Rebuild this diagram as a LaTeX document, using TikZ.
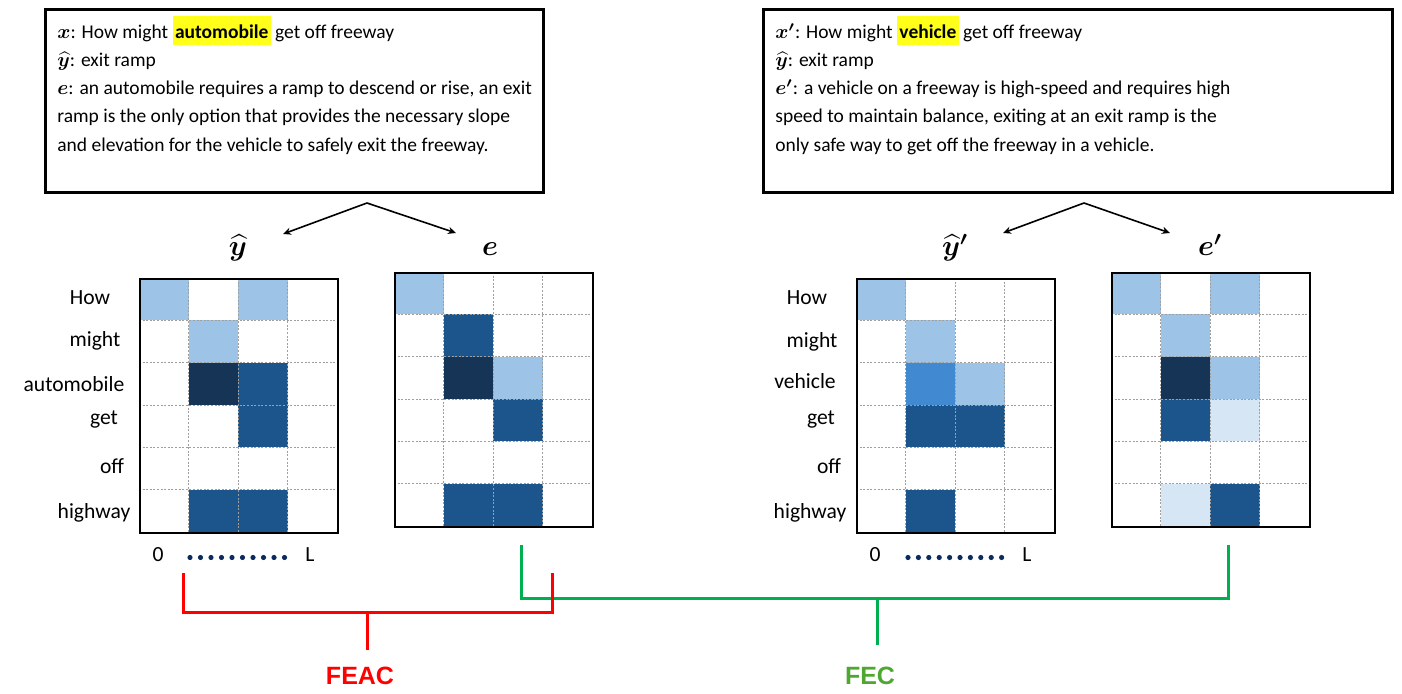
\documentclass[tikz,border=0pt]{standalone}
\usepackage{fontspec}
\usepackage{amsmath}
\usepackage{bm}
\setmainfont{Carlito}
\newfontfamily\tagfont{Liberation Sans}
\usetikzlibrary{arrows.meta,positioning,calc}
\definecolor{hlight}{HTML}{9DC3E6}
\definecolor{hpale}{HTML}{D6E6F5}
\definecolor{hmid}{HTML}{418AD2}
\definecolor{hdark}{HTML}{1B558C}
\definecolor{hdeep}{HTML}{163556}
\definecolor{dotblue}{HTML}{0B2A5E}
\definecolor{hiyellow}{HTML}{FFFF1A}
\definecolor{feacred}{HTML}{FF0000}
\definecolor{fecline}{HTML}{00B050}
\definecolor{fectext}{HTML}{4EA72E}
\newcommand{\hlword}[1]{{\setlength{\fboxsep}{0pt}\colorbox{hiyellow}{\rule[-3.5pt]{0pt}{14.8pt}\kern1.2pt\textbf{#1}\kern1.2pt}}}

\begin{document}
\begin{tikzpicture}[x=0.5pt, y=-0.5pt,
        txtbox/.style={draw, line width=1.5pt, inner sep=0pt, minimum height=91.5pt},
        txt/.style={anchor=north west, inner sep=0pt, align=left, font=\fontsize{9.75}{14.1}\selectfont},
        arr/.style={-{Stealth[length=4pt, width=3.6pt]}, line width=0.8pt},
        hmap/.style={draw, line width=0.8pt, anchor=north west, minimum width=99pt,
                     minimum height=127pt, inner sep=0pt},
        gridln/.style={gray!75, line width=0.35pt, dash pattern=on 1pt off 0.8pt},
        word/.style={font=\fontsize{10.8}{13}\selectfont, inner sep=1pt},
        hdr/.style={anchor=base, font=\fontsize{14}{16}\selectfont},
        feacln/.style={feacred, line width=1.5pt},
        fecln/.style={fecline, line width=1.5pt},
        tag/.style={font=\tagfont\bfseries\fontsize{12.5}{15}\selectfont}]
  \useasboundingbox (0,0) rectangle (1402,694);

  % input / output / explanation boxes
  \node[txtbox, minimum width=249pt] (boxa) at (294,101.5) {};
  \node[txtbox, minimum width=314.5pt] (boxb) at (1077.5,101.5) {};
  \node[txt] (txa) at (57,15.4) {$\bm{x}$: How might \hlword{automobile} get off freeway\\
    $\widehat{\bm{y}}$: exit ramp\\
    $\bm{e}$: an automobile requires a ramp to descend or rise, an exit\\
    ramp is the only option that provides the necessary slope\\
    and elevation for the vehicle to safely exit the freeway.};
  \node[txt] (txb) at (775,15.4) {$\bm{x'}$: How might \hlword{vehicle} get off freeway\\
    $\widehat{\bm{y}}$: exit ramp\\
    $\bm{e'}$: a vehicle on a freeway is high-speed and requires high\\
    speed to maintain balance, exiting at an exit ramp is the\\
    only safe way to get off the freeway in a vehicle.};

  % attribution maps
  \foreach \nm/\hx/\hy/\cells in {
      yh/139/278/{0/0/hlight,2/0/hlight,1/1/hlight,1/2/hdeep,2/2/hdark,2/3/hdark,1/5/hdark,2/5/hdark},
      ex/394/272/{0/0/hlight,1/1/hdark,1/2/hdeep,2/2/hlight,2/3/hdark,1/5/hdark,2/5/hdark},
      yhp/856/278/{0/0/hlight,1/1/hlight,1/2/hmid,2/2/hlight,1/3/hdark,2/3/hdark,1/5/hdark},
      exp/1111/272/{0/0/hlight,2/0/hlight,1/1/hlight,1/2/hdeep,2/2/hlight,1/3/hdark,2/3/hpale,1/5/hpale,2/5/hdark}}{
    \foreach \c/\r/\col in \cells
      \fill[\col] (\hx+\c*49.5,\hy+\r*42.33) rectangle ++(49.5,42.33);
    \foreach \i in {1,2,3}
      \draw[gridln] (\hx+\i*49.5,\hy) -- ++(0,254);
    \foreach \j in {1,...,5}
      \draw[gridln] (\hx,\hy+\j*42.33) -- ++(198,0);
    \node[hmap] (\nm) at (\hx,\hy) {};
  }

  \node[hdr] (tyh) at (238,256) {$\widehat{\bm{y}}$};
  \node[hdr] (tex) at (490,256) {$\bm{e}$};
  \node[hdr] (tyhp) at (955,256) {$\widehat{\bm{y}}\bm{'}$};
  \node[hdr] (texp) at (1210,256) {$\bm{e'}$};

  \coordinate (apa) at (367,203);
  \coordinate (apb) at (1084,203);
  \coordinate (tipa) at (283,234);
  \coordinate (tipb) at (456,233);
  \coordinate (tipc) at (1003,233);
  \coordinate (tipd) at (1170,233);
  \draw[arr] (apa) -- (tipa);
  \draw[arr] (apa) -- (tipb);
  \draw[arr] (apb) -- (tipc);
  \draw[arr] (apb) -- (tipd);

  % token labels
  \foreach \w/\lx/\ly [count=\i] in {How/90/298, might/95/341, automobile/74/384,
      get/104/420, off/112/466, highway/94/513}
    \node[word] (wa\i) at (\lx,\ly) {\w};
  \foreach \w/\lx/\ly [count=\i] in {How/807/298, might/812/342, vehicle/805/381,
      get/821/420, off/829/466, highway/810/513}
    \node[word] (wb\i) at (\lx,\ly) {\w};

  % position axis
  \node[word] (za) at (158,555) {0};
  \node[word] (la) at (310,555) {L};
  \node[word] (zb) at (875,555) {0};
  \node[word] (lb) at (1027,555) {L};
  \foreach \k in {0,...,9} {
    \fill[dotblue] (190+\k*10.5,557.5) circle (2.6);
    \fill[dotblue] (908+\k*10.4,557.5) circle (2.6);
  }

  % FEAC / FEC brackets
  \node[tag, text=feacred] (feac) at (360,676) {FEAC};
  \node[tag, text=fectext] (fec) at (870,676) {FEC};
  \coordinate (fcl) at (521,545);
  \coordinate (fcr) at (1228,545);
  \coordinate (fcm) at (877,598);
  \draw[fecln] (fcl) -- (fcl |- fcm) -- (fcr |- fcm) -- (fcr);
  \draw[fecln] (fcm) -- (877,645);
  \coordinate (fal) at (183,573);
  \coordinate (far) at (552,573);
  \coordinate (fam) at (367,612);
  \draw[feacln] (fal) -- (fal |- fam) -- (far |- fam) -- (far);
  \draw[feacln] (fam) -- (367,650);
\end{tikzpicture}
\end{document}
